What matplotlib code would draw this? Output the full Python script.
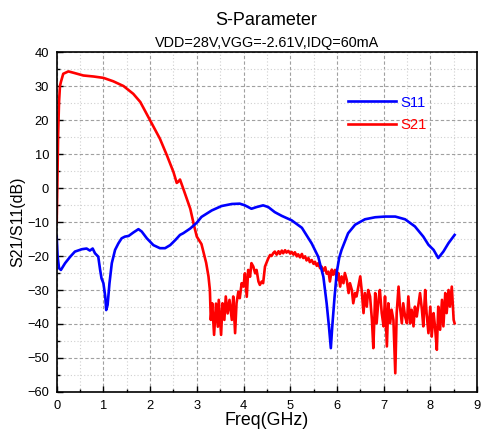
import matplotlib
matplotlib.use('Agg')
import matplotlib.pyplot as plt
from matplotlib.ticker import MultipleLocator

plt.rcParams['font.family'] = ['Liberation Sans', 'DejaVu Sans']

# S11 trace (GHz, dB)
s11_freq = [0.0, 0.02, 0.05, 0.09, 0.18, 0.29, 0.39, 0.54, 0.64, 0.71, 0.77, 0.82, 0.89,
            0.93, 0.96, 1.0, 1.04, 1.06, 1.09, 1.13, 1.18, 1.25, 1.32, 1.39, 1.46, 1.54,
            1.64, 1.75, 1.82, 1.93, 2.07, 2.21, 2.32, 2.43, 2.54, 2.64, 2.71, 2.86, 3.0,
            3.1, 3.32, 3.53, 3.75, 3.92, 4.03, 4.17, 4.28, 4.42, 4.53, 4.67, 4.82, 5.03,
            5.25, 5.46, 5.6, 5.71, 5.78, 5.83, 5.87, 5.9, 5.95, 6.0, 6.05, 6.1, 6.24,
            6.39, 6.6, 6.82, 7.03, 7.25, 7.46, 7.67, 7.85, 7.96, 8.07, 8.17, 8.28, 8.39,
            8.52]
s11_db = [-14.3, -20.2, -23.6, -24.1, -22.1, -20.2, -18.7, -18.0, -17.8, -18.4, -17.8,
          -19.2, -20.2, -24.1, -26.6, -28.0, -32.0, -35.9, -34.4, -28.0, -22.1, -18.2,
          -16.3, -14.8, -14.3, -14.1, -13.1, -12.1, -12.8, -14.8, -16.8, -17.7, -17.7,
          -16.8, -15.3, -13.8, -13.3, -11.9, -10.2, -8.5, -6.6, -5.3, -4.7, -4.6, -5.1,
          -6.1, -5.6, -5.1, -5.6, -7.1, -8.2, -9.5, -11.7, -16.3, -20.2, -26.1, -33.9,
          -40.8, -47.1, -40.8, -32.0, -24.5, -20.5, -18.2, -13.3, -10.8, -9.2, -8.6,
          -8.4, -8.4, -9.2, -11.3, -14.3, -16.7, -18.2, -20.6, -18.7, -16.2, -13.8]

# S21 trace (GHz, dB)
s21_freq = [0.0, 0.014, 0.03, 0.05, 0.07, 0.09, 0.14, 0.25, 0.36, 0.57, 0.79, 1.0, 1.21,
            1.43, 1.64, 1.79, 2.0, 2.21, 2.36, 2.5, 2.57, 2.6, 2.64, 2.71, 2.86, 2.94,
            3.0, 3.1, 3.2, 3.25, 3.28,
            3.30, 3.33, 3.37, 3.41, 3.45, 3.47, 3.52, 3.55, 3.59, 3.62, 3.66, 3.70, 3.75,
            3.78, 3.82, 3.85, 3.89, 3.92, 3.96, 4.00, 4.03, 4.07, 4.10, 4.14, 4.17, 4.21,
            4.25, 4.28, 4.32, 4.35, 4.39, 4.42, 4.46, 4.50, 4.53, 4.57, 4.60, 4.64, 4.67,
            4.71, 4.75, 4.78, 4.82, 4.85, 4.89, 4.92, 4.96, 5.00, 5.03, 5.07, 5.10, 5.14,
            5.17, 5.21, 5.25, 5.28, 5.32, 5.35, 5.39, 5.42, 5.46, 5.50, 5.53, 5.57, 5.60,
            5.64, 5.67, 5.71, 5.75, 5.78, 5.82, 5.85, 5.89, 5.92,
            5.96, 6.00, 6.03, 6.07, 6.10, 6.14, 6.17, 6.21, 6.25, 6.28, 6.32, 6.35, 6.39,
            6.42, 6.46, 6.50, 6.53, 6.57, 6.60, 6.64, 6.67, 6.71, 6.75, 6.78, 6.82, 6.85,
            6.89, 6.92, 6.96, 7.00, 7.03, 7.07, 7.10, 7.14, 7.17, 7.21, 7.25, 7.28, 7.32,
            7.35, 7.39, 7.42, 7.46, 7.50, 7.53, 7.57, 7.60, 7.64, 7.67, 7.71, 7.75, 7.78,
            7.82, 7.85, 7.89, 7.92, 7.96, 8.00, 8.03, 8.07, 8.10, 8.14, 8.17, 8.21, 8.25,
            8.28, 8.32, 8.35, 8.39, 8.42, 8.46, 8.50, 8.52]
s21_db = [-10.0, 1.0, 15.5, 25.3, 30.0, 31.2, 33.6, 34.3, 33.9, 33.1, 32.8, 32.4, 31.4,
          30.0, 27.7, 25.3, 19.9, 14.5, 9.6, 4.7, 1.5, 1.8, 2.5, -0.2, -6.1, -11.0,
          -14.3, -16.5, -22.0, -26.0, -30.0,
          -38.8, -33.9, -43.2, -34.0, -40.8, -32.9, -43.2, -33.9, -38.8, -31.9, -36.9,
          -32.9, -38.8, -31.9, -42.7, -33.9, -30.5, -32.4, -28.0, -29.0, -25.1, -32.0,
          -24.1, -26.1, -22.1, -23.1, -25.1, -24.1, -27.5, -28.5, -27.5, -28.0, -23.1,
          -21.7, -20.7, -19.7, -20.0, -19.1, -18.7, -19.6, -18.6, -19.4, -18.4, -19.2,
          -18.3, -19.0, -18.5, -19.3, -18.8, -19.6, -18.9, -20.1, -19.5, -20.4, -19.4,
          -20.6, -20.1, -21.3, -20.6, -21.8, -21.2, -22.3, -21.7, -22.9, -22.1, -23.6,
          -23.1, -24.4, -23.3, -25.2, -24.6, -27.5, -24.0, -25.5,
          -24.1, -27.0, -25.0, -29.0, -26.0, -28.0, -25.0, -27.0, -30.9, -28.0, -30.0,
          -33.9, -30.9, -31.9, -29.0, -26.0, -30.0, -36.8, -30.9, -34.9, -30.0, -31.9,
          -38.8, -47.1, -30.9, -39.8, -32.9, -30.0, -36.8, -40.7, -31.9, -46.6, -33.9,
          -39.8, -35.8, -38.8, -54.5, -36.8, -29.0, -34.9, -39.8, -33.9, -37.8, -39.8,
          -31.9, -39.8, -35.8, -40.7, -34.9, -37.8, -33.9, -30.9, -35.8, -40.7, -30.0,
          -36.8, -42.7, -34.9, -43.7, -36.8, -40.7, -47.6, -34.9, -41.7, -32.9, -40.7,
          -30.9, -36.8, -30.0, -34.9, -29.0, -38.8, -39.8]

fig = plt.figure(figsize=(4.83, 4.30), dpi=100)
ax = fig.add_axes([0.1174, 0.0884, 0.8702, 0.7906])

l21, = ax.plot(s21_freq, s21_db, color='#ff0000', lw=1.9, label='S21')
l11, = ax.plot(s11_freq, s11_db, color='#0000ff', lw=1.9, label='S11')

ax.set_xlim(0, 9)
ax.set_ylim(-60, 40)
ax.xaxis.set_major_locator(MultipleLocator(1))
ax.xaxis.set_minor_locator(MultipleLocator(0.5))
ax.yaxis.set_major_locator(MultipleLocator(10))
ax.yaxis.set_minor_locator(MultipleLocator(5))

ax.grid(which='major', color='#a0a0a0', linestyle=(0, (3, 2)), linewidth=0.8)
ax.grid(which='minor', color='#d0d0d0', linestyle=(0, (1, 2)), linewidth=0.8)
ax.set_axisbelow(True)

ax.tick_params(which='both', direction='in', top=False, right=False, labelsize=9.3)
ax.tick_params(which='major', length=4, width=1, pad=5.5)
ax.tick_params(which='minor', length=2.5, width=1)
for sp in ax.spines.values():
    sp.set_linewidth(1.2)

ax.set_xlabel('Freq(GHz)', fontsize=12.8, labelpad=0)
ax.set_ylabel('S21/S11(dB)', fontsize=11.5, labelpad=1)

fig.text(0.552, 0.952, 'S-Parameter', ha='center', va='center', fontsize=13)
fig.text(0.552, 0.9, 'VDD=28V,VGG=-2.61V,IDQ=60mA', ha='center', va='center', fontsize=10.4)

ax.legend(handles=[l11, l21], loc='upper left', bbox_to_anchor=(0.706, 0.795),
          bbox_transform=fig.transFigure, frameon=False, fontsize=10.7,
          handlelength=3.2, handletextpad=0.3, labelspacing=0.6, borderpad=0,
          labelcolor='linecolor')

plt.savefig('out.png', dpi=100)
